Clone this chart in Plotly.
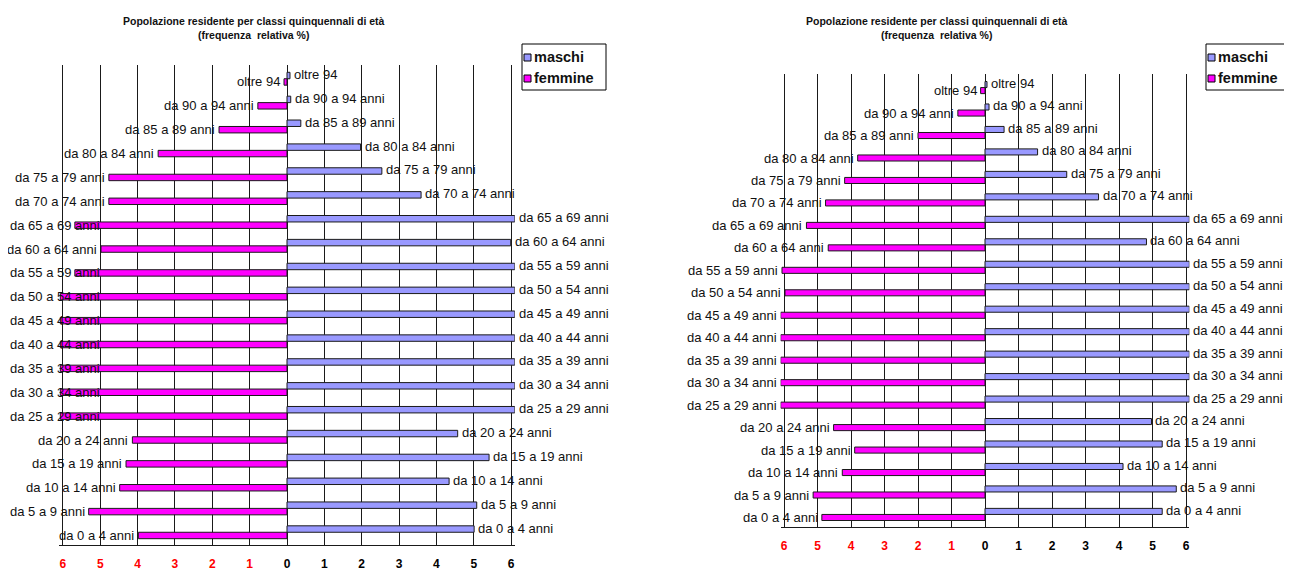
import plotly.graph_objects as go

# ---------------- data ----------------
categories = ["da 0 a 4 anni", "da 5 a 9 anni", "da 10 a 14 anni", "da 15 a 19 anni",
              "da 20 a 24 anni", "da 25 a 29 anni", "da 30 a 34 anni", "da 35 a 39 anni",
              "da 40 a 44 anni", "da 45 a 49 anni", "da 50 a 54 anni", "da 55 a 59 anni",
              "da 60 a 64 anni", "da 65 a 69 anni", "da 70 a 74 anni", "da 75 a 79 anni",
              "da 80 a 84 anni", "da 85 a 89 anni", "da 90 a 94 anni", "oltre 94"]

left_maschi = [5.01, 5.08, 4.34, 5.41, 4.57, 6.1, 6.1, 6.1, 6.1, 6.1,
               6.1, 6.1, 5.99, 6.1, 3.59, 2.54, 1.97, 0.37, 0.1, 0.08]
left_femmine = [3.98, 5.31, 4.48, 4.31, 4.14, 6.07, 6.07, 6.07, 6.07, 6.07,
                6.07, 5.68, 4.98, 5.68, 4.77, 4.77, 3.45, 1.82, 0.78, 0.08]

right_maschi = [5.29, 5.71, 4.12, 5.29, 4.97, 6.1, 6.1, 6.1, 6.1, 6.1,
                6.1, 6.1, 4.82, 6.1, 3.39, 2.44, 1.57, 0.57, 0.12, 0.06]
right_femmine = [4.87, 5.13, 4.26, 3.89, 4.52, 6.1, 6.1, 6.1, 6.1, 6.1,
                 5.97, 6.06, 4.68, 5.33, 4.76, 4.19, 3.8, 2.0, 0.81, 0.13]

tick_values = [-6, -5, -4, -3, -2, -1, 0, 1, 2, 3, 4, 5, 6]
title_text = "Popolazione residente per classi quinquennali di età<br>(frequenza  relativa %)"
series_names = ["maschi", "femmine"]

# ---------------- style ----------------
# the page body has an 8px margin: the figure is sized to fit the 1292x572 window
OFF = 8
W, H = 1292 - OFF, 572 - OFF
C_M = "#9999FF"
C_F = "#FF00FF"
LINE = "#1a1a1a"
FONT = "Liberation Sans, Arial, sans-serif"
XR = 6.1
BARGAP = 0.46


def pxx(rx):
    return (rx - OFF) / W


def pxy(ry):
    return 1 - (ry - OFF) / H


# geometry in window pixels
charts = [
    dict(x0=287 - XR * 37.35, x1=287 + XR * 37.35, top=65, bottom=545,
         m=left_maschi, f=left_femmine, title_x=254, legend=(522, 44, 606, 90)),
    dict(x0=985 - XR * 33.5, x1=985 + XR * 33.5, top=74, bottom=527,
         m=right_maschi, f=right_femmine, title_x=937, legend=(1206, 44, 1287, 90)),
]

ticktext = [("<span style='color:#FF0000'><b>%d</b></span>" % abs(v)) if v < 0 else "<b>%d</b>" % v
            for v in tick_values]

AW = {" ": 0.278, "a": 0.556, "d": 0.556, "n": 0.556, "i": 0.222, "o": 0.556, "l": 0.222,
      "t": 0.278, "r": 0.333, "e": 0.556}
LBL_SIZE = 13


def text_w(s):
    return sum(AW.get(ch, 0.556) for ch in s) * LBL_SIZE


fig = go.Figure()
annotations = []
shapes = []

for k, ch in enumerate(charts):
    sfx = "" if k == 0 else str(k + 1)
    xa, ya = "x" + sfx, "y" + sfx
    fig.add_trace(go.Bar(y=categories, x=[-v for v in ch["f"]], orientation="h", name=series_names[1],
                         marker=dict(color=C_F, line=dict(color=LINE, width=1)),
                         xaxis=xa, yaxis=ya, showlegend=False, hoverinfo="skip"))
    fig.add_trace(go.Bar(y=categories, x=ch["m"], orientation="h", name=series_names[0],
                         marker=dict(color=C_M, line=dict(color=LINE, width=1)),
                         xaxis=xa, yaxis=ya, showlegend=False, hoverinfo="skip"))

    dom_x = [pxx(ch["x0"]), pxx(ch["x1"])]
    dom_y = [pxy(ch["bottom"]), pxy(ch["top"])]
    xkey = "xaxis" + sfx
    ykey = "yaxis" + sfx
    fig.update_layout(**{
        xkey: dict(domain=dom_x, range=[-XR, XR], tickvals=tick_values, ticktext=ticktext,
                   showgrid=True, gridcolor=LINE, gridwidth=1, zeroline=True, zerolinecolor=LINE,
                   zerolinewidth=1, showline=True, linecolor=LINE, linewidth=1, ticks="",
                   ticklabelstandoff=8, tickfont=dict(family=FONT, size=12, color="#000"),
                   anchor=ya, fixedrange=True, automargin=False),
        ykey: dict(domain=dom_y, categoryorder="array", categoryarray=categories,
                   showticklabels=False, showgrid=False, zeroline=False, showline=False,
                   ticks="", anchor=xa, fixedrange=True, automargin=False),
    })

    row_px = (ch["bottom"] - ch["top"]) / len(categories)
    off = row_px * (1 - BARGAP) / 4
    scale = (ch["x1"] - ch["x0"]) / (2 * XR)
    zero_px = (ch["x0"] + ch["x1"]) / 2

    for cat, vm, vf in zip(categories, ch["m"], ch["f"]):
        annotations.append(dict(x=vm, y=cat, xref=xa, yref=ya, text=cat, showarrow=False,
                                xanchor="left", xshift=2, yshift=off + 1,
                                font=dict(family=FONT, size=LBL_SIZE, color="#111")))
        end_px = zero_px - vf * scale - 2
        if end_px - text_w(cat) < 8:
            annotations.append(dict(x=0, y=cat, xref="paper", yref=ya, text=cat,
                                    showarrow=False, xanchor="left", yshift=-off,
                                    font=dict(family=FONT, size=LBL_SIZE, color="#111")))
        else:
            annotations.append(dict(x=-vf, y=cat, xref=xa, yref=ya, text=cat, showarrow=False,
                                    xanchor="right", xshift=-2, yshift=-off,
                                    font=dict(family=FONT, size=LBL_SIZE, color="#111")))

    # title
    annotations.append(dict(x=pxx(ch["title_x"]), y=pxy(28), xref="paper", yref="paper",
                            text="<b>" + title_text + "</b>", showarrow=False,
                            xanchor="center", yanchor="middle",
                            font=dict(family=FONT, size=10.5, color="#111")))

    # legend box (drawn manually)
    lx0, ly0, lx1, ly1 = ch["legend"]
    shapes.append(dict(type="rect", xref="paper", yref="paper",
                       x0=pxx(lx0), x1=pxx(lx1), y0=pxy(ly1), y1=pxy(ly0),
                       line=dict(color="#000", width=1), fillcolor="white"))
    for j, (nm, col) in enumerate(zip(series_names, [C_M, C_F])):
        cy = ly0 + 13 + j * 21
        shapes.append(dict(type="rect", xref="paper", yref="paper",
                           x0=pxx(lx0 + 2), x1=pxx(lx0 + 9),
                           y0=pxy(cy + 4), y1=pxy(cy - 3),
                           line=dict(color="#000", width=1), fillcolor=col))
        annotations.append(dict(x=pxx(lx0 + 10), y=pxy(cy), xref="paper", yref="paper",
                                text="<b>" + nm + "</b>", showarrow=False, xanchor="left",
                                yanchor="middle",
                                font=dict(family=FONT, size=14.5, color="#111")))

fig.update_layout(
    width=W, height=H, barmode="group", bargap=BARGAP, bargroupgap=0,
    margin=dict(l=0, r=0, t=0, b=0), plot_bgcolor="white", paper_bgcolor="white",
    annotations=annotations, shapes=shapes, showlegend=False,
)

fig.write_html("out.html")
